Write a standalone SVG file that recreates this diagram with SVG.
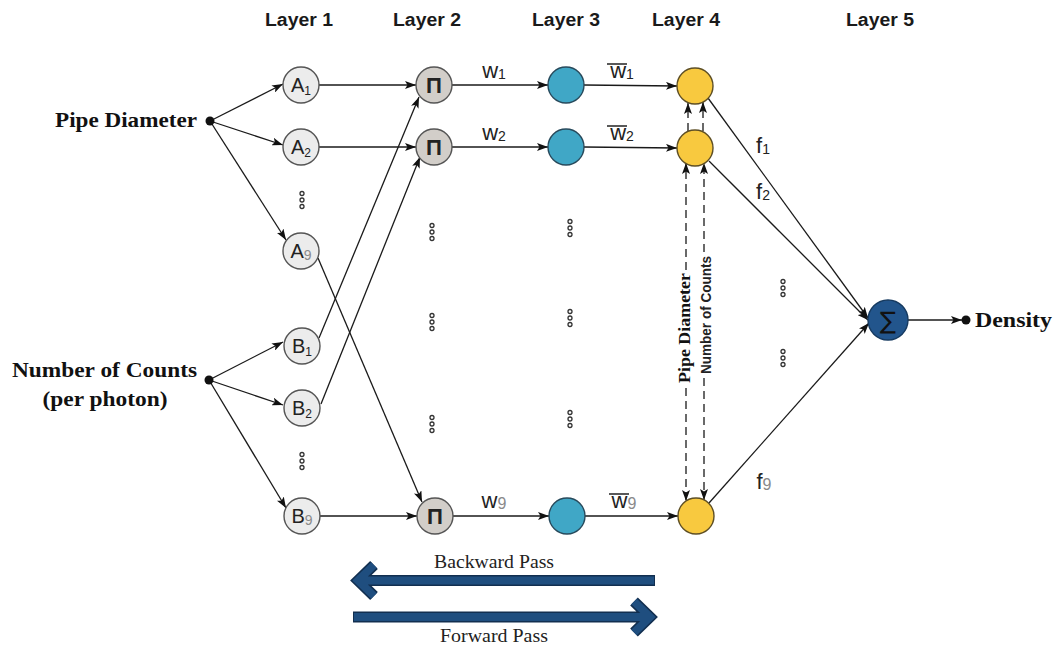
<svg xmlns="http://www.w3.org/2000/svg" width="1055" height="645" viewBox="0 0 1055 645">
<style>
.bg{fill:#ffffff}
.layer{font-family:"Liberation Sans",Arial,sans-serif;font-weight:bold;font-size:18px;fill:#1a1a1a}
.serifb{font-family:"Liberation Serif","Times New Roman",serif;font-weight:bold;fill:#111}
.serif{font-family:"Liberation Serif","Times New Roman",serif;fill:#222}
.lbl{font-family:"Liberation Sans",Arial,sans-serif;font-size:20px;fill:#222}
.pil{font-family:"Liberation Sans",Arial,sans-serif;font-size:22px;font-weight:bold;fill:#222}
.wl{font-family:"Liberation Sans",Arial,sans-serif;font-size:22px;fill:#222}
.in{fill:#ececec;stroke:#555;stroke-width:1.4}
.pi{fill:#d2cec9;stroke:#555;stroke-width:1.4}
.bl{fill:#40a7c6;stroke:#284a5c;stroke-width:1.4}
.ye{fill:#f8c93f;stroke:#5e4f25;stroke-width:1.4}
.sg{fill:#22558c;stroke:#163a60;stroke-width:1.4}
.edge{stroke:#1a1a1a;stroke-width:1.3;fill:none;marker-end:url(#ah)}
.dash{stroke:#1a1a1a;stroke-width:1.3;fill:none;stroke-dasharray:8 5;marker-end:url(#ah)}
.dot{fill:#111}
.vd{fill:none;stroke:#333;stroke-width:1.3}
.gray{fill:#8a8a8a}
.big{stroke:#122f50;stroke-width:11;fill:none;stroke-linejoin:miter;stroke-linecap:butt}
.bigin{stroke:#1f4e7f;stroke-width:8;fill:none;stroke-linejoin:miter;stroke-linecap:butt}
</style>
<defs>
<marker id="ah" markerUnits="userSpaceOnUse" markerWidth="11" markerHeight="8" refX="11" refY="4" orient="auto">
<path d="M0,0 L11,4 L0,8 L2.5,4 z" fill="#111"/>
</marker>
<g id="vdots">
<circle class="vd" cx="0" cy="-6.5" r="2"/>
<circle class="vd" cx="0" cy="0" r="2"/>
<circle class="vd" cx="0" cy="6.5" r="2"/>
</g>
</defs>
<rect class="bg" x="0" y="0" width="1055" height="645"/>

<g id="layer-titles">
<text class="layer" x="299" y="26" text-anchor="middle" textLength="68" lengthAdjust="spacingAndGlyphs">Layer 1</text>
<text class="layer" x="427" y="26" text-anchor="middle" textLength="68" lengthAdjust="spacingAndGlyphs">Layer 2</text>
<text class="layer" x="566" y="26" text-anchor="middle" textLength="68" lengthAdjust="spacingAndGlyphs">Layer 3</text>
<text class="layer" x="686" y="26" text-anchor="middle" textLength="68" lengthAdjust="spacingAndGlyphs">Layer 4</text>
<text class="layer" x="880" y="26" text-anchor="middle" textLength="68" lengthAdjust="spacingAndGlyphs">Layer 5</text>
</g>

<g id="connectors">
<line class="edge" x1="210" y1="121" x2="283" y2="84"/>
<line class="edge" x1="210" y1="121" x2="283" y2="145"/>
<line class="edge" x1="210" y1="121" x2="286" y2="240"/>
<line class="edge" x1="209" y1="380" x2="283" y2="342"/>
<line class="edge" x1="209" y1="380" x2="283" y2="405"/>
<line class="edge" x1="209" y1="380" x2="286" y2="508"/>
<line class="edge" x1="319" y1="85" x2="416" y2="85"/>
<line class="edge" x1="319" y1="147" x2="416" y2="147"/>
<line class="edge" x1="320" y1="516" x2="417" y2="516"/>
<line class="edge" x1="318" y1="258" x2="422" y2="502"/>
<line class="edge" x1="319" y1="338" x2="419" y2="97"/>
<line class="edge" x1="321" y1="404" x2="420" y2="157"/>
<line class="edge" x1="452" y1="85" x2="548" y2="85"/>
<line class="edge" x1="452" y1="147" x2="548" y2="147"/>
<line class="edge" x1="453" y1="516" x2="549" y2="516"/>
<line class="edge" x1="584" y1="85" x2="677" y2="86"/>
<line class="edge" x1="584" y1="147" x2="677" y2="148"/>
<line class="edge" x1="585" y1="516" x2="678" y2="516"/>
<line class="edge" x1="708" y1="98" x2="868" y2="318"/>
<line class="edge" x1="709" y1="161" x2="868" y2="320"/>
<line class="edge" x1="709" y1="503" x2="869" y2="323"/>
<line class="edge" x1="908" y1="320" x2="962" y2="320"/>
<line class="dash" x1="688" y1="131" x2="688" y2="103"/>
<line class="dash" x1="703" y1="131" x2="703" y2="102"/>
<line class="dash" x1="686" y1="270" x2="686" y2="163"/>
<line class="dash" x1="686" y1="388" x2="686" y2="501"/>
<line class="dash" x1="704" y1="252" x2="704" y2="163"/>
<line class="dash" x1="704" y1="378" x2="704" y2="500"/>
</g>

<g id="input-pipe">
<circle class="dot" cx="210" cy="121" r="4.5"/>
<text class="serifb" x="197" y="127" font-size="21" text-anchor="end" textLength="142" lengthAdjust="spacingAndGlyphs">Pipe Diameter</text>
</g>
<g id="input-counts">
<circle class="dot" cx="209" cy="380" r="4.5"/>
<text class="serifb" x="197" y="377" font-size="21" text-anchor="end" textLength="185" lengthAdjust="spacingAndGlyphs">Number of Counts</text>
<text class="serifb" x="105" y="406" font-size="21" text-anchor="middle" textLength="125" lengthAdjust="spacingAndGlyphs">(per photon)</text>
</g>

<g id="A1"><circle class="in" cx="301" cy="85" r="18"/><text class="lbl" x="301" y="92" text-anchor="middle">A<tspan font-size="12" dy="3">1</tspan></text></g>
<g id="A2"><circle class="in" cx="301" cy="147" r="18"/><text class="lbl" x="301" y="154" text-anchor="middle">A<tspan font-size="12" dy="3">2</tspan></text></g>
<g id="A9"><circle class="in" cx="301" cy="251" r="18"/><text class="lbl" x="301" y="258" text-anchor="middle">A<tspan class="gray" font-size="14" dy="2">9</tspan></text></g>
<g id="B1"><circle class="in" cx="302" cy="346" r="18"/><text class="lbl" x="302" y="353" text-anchor="middle">B<tspan font-size="12" dy="3">1</tspan></text></g>
<g id="B2"><circle class="in" cx="302" cy="408" r="18"/><text class="lbl" x="302" y="415" text-anchor="middle">B<tspan font-size="12" dy="3">2</tspan></text></g>
<g id="B9"><circle class="in" cx="302" cy="516" r="18"/><text class="lbl" x="302" y="523" text-anchor="middle">B<tspan class="gray" font-size="14" dy="2">9</tspan></text></g>

<g id="P1"><circle class="pi" cx="434" cy="85" r="18"/><text class="pil" x="434" y="93" text-anchor="middle">Π</text></g>
<g id="P2"><circle class="pi" cx="434" cy="147" r="18"/><text class="pil" x="434" y="155" text-anchor="middle">Π</text></g>
<g id="P9"><circle class="pi" cx="435" cy="516" r="18"/><text class="pil" x="435" y="524" text-anchor="middle">Π</text></g>

<g id="N1"><circle class="bl" cx="566" cy="85" r="18"/></g>
<g id="N2"><circle class="bl" cx="566" cy="147" r="18"/></g>
<g id="N9"><circle class="bl" cx="567" cy="516" r="18"/></g>

<g id="Y1"><circle class="ye" cx="695" cy="86" r="18"/></g>
<g id="Y2"><circle class="ye" cx="695" cy="148" r="18"/></g>
<g id="Y9"><circle class="ye" cx="696" cy="516" r="18"/></g>

<g id="S"><circle class="sg" cx="888" cy="320" r="20"/><text x="888" y="329" text-anchor="middle" font-family="'DejaVu Sans',sans-serif" font-size="24" fill="#111">∑</text></g>

<g id="output">
<circle class="dot" cx="966" cy="320" r="4.5"/>
<text class="serifb" x="975" y="327" font-size="22" textLength="77" lengthAdjust="spacingAndGlyphs">Density</text>
</g>

<g id="weight-labels">
<text class="wl" x="494" y="78" text-anchor="middle">w<tspan font-size="14" dy="1">1</tspan></text>
<text class="wl" x="494" y="140" text-anchor="middle">w<tspan font-size="14" dy="1">2</tspan></text>
<text class="wl" x="494" y="508" text-anchor="middle">w<tspan class="gray" font-size="16" dy="1">9</tspan></text>
<text class="wl" x="622" y="78" text-anchor="middle">w<tspan font-size="14" dy="1">1</tspan></text>
<line x1="607" y1="64" x2="627" y2="64" stroke="#222" stroke-width="1.5"/>
<text class="wl" x="622" y="140" text-anchor="middle">w<tspan font-size="14" dy="1">2</tspan></text>
<line x1="607" y1="126" x2="627" y2="126" stroke="#222" stroke-width="1.5"/>
<text class="wl" x="624" y="508" text-anchor="middle">w<tspan class="gray" font-size="16" dy="1">9</tspan></text>
<line x1="609" y1="494" x2="629" y2="494" stroke="#222" stroke-width="1.5"/>
<text class="wl" x="763" y="153" text-anchor="middle">f<tspan font-size="14" dy="1">1</tspan></text>
<text class="wl" x="763" y="199" text-anchor="middle">f<tspan font-size="14" dy="1">2</tspan></text>
<text class="wl" x="764" y="489" text-anchor="middle">f<tspan class="gray" font-size="16" dy="1">9</tspan></text>
</g>

<g id="dashed-labels">
<text class="serifb" font-size="16" transform="translate(690,328) rotate(-90)" text-anchor="middle" textLength="110" lengthAdjust="spacingAndGlyphs">Pipe Diameter</text>
<text font-family="'Liberation Sans',Arial,sans-serif" font-weight="bold" font-size="14" fill="#222" transform="translate(711,315) rotate(-90)" text-anchor="middle" textLength="118" lengthAdjust="spacingAndGlyphs">Number of Counts</text>
</g>

<g id="ellipses">
<use href="#vdots" x="302" y="200"/>
<use href="#vdots" x="302" y="461"/>
<use href="#vdots" x="432" y="232"/>
<use href="#vdots" x="432" y="322"/>
<use href="#vdots" x="432" y="424"/>
<use href="#vdots" x="570" y="228"/>
<use href="#vdots" x="570" y="318"/>
<use href="#vdots" x="570" y="419"/>
<use href="#vdots" x="783" y="288"/>
<use href="#vdots" x="783" y="358"/>
</g>

<g id="backward-pass">
<path class="big" d="M655,580.5 L360,580.5 M374,565 L358,580.5 L374,596"/>
<path class="bigin" d="M654,580.5 L360,580.5 M374,565 L358,580.5 L374,596"/>
<text class="serif" x="494" y="568" font-size="19" text-anchor="middle" textLength="120" lengthAdjust="spacingAndGlyphs">Backward Pass</text>
</g>
<g id="forward-pass">
<path class="big" d="M353,617 L648,617 M634,601.5 L650,617 L634,632.5"/>
<path class="bigin" d="M354,617 L648,617 M634,601.5 L650,617 L634,632.5"/>
<text class="serif" x="494" y="642" font-size="19" text-anchor="middle" textLength="108" lengthAdjust="spacingAndGlyphs">Forward Pass</text>
</g>
</svg>
